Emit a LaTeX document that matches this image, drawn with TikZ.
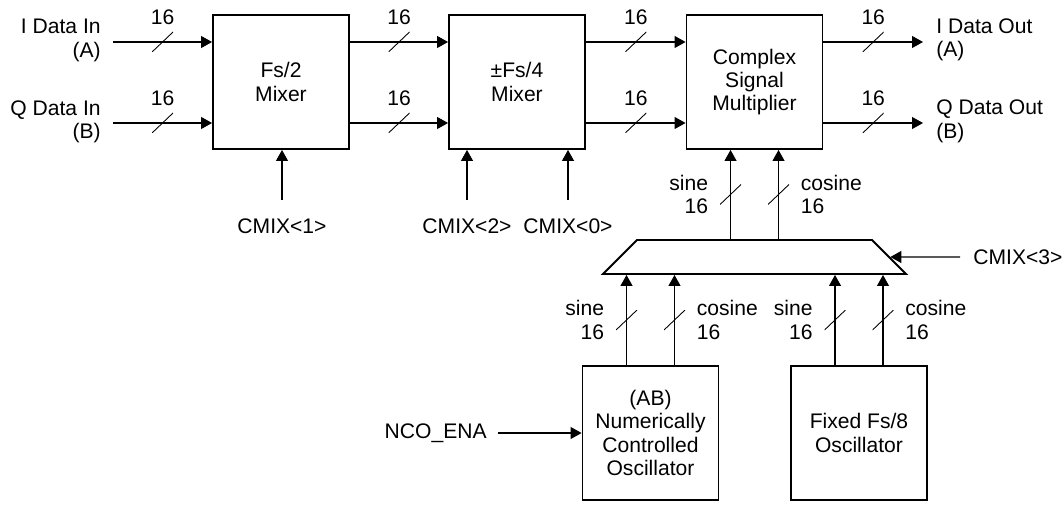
\documentclass[tikz,border=0pt]{standalone}
\usepackage{fontspec}
\setmainfont{Liberation Sans}
\usetikzlibrary{arrows.meta, shapes.geometric, calc}

\begin{document}
\begin{tikzpicture}[
    x=0.02cm, y=-0.02cm,
    font=\fontsize{12}{13.3}\selectfont,
    caixa/.style={
        draw,
        line width=1.1pt,
        align=center,
        minimum width=2.72cm,
        minimum height=2.68cm,
        inner sep=0pt
    },
    seta/.style={
        -{Triangle[length=0.22cm, width=0.24cm]},
        line width=0.6pt
    },
    traco/.style={
        inner sep=0pt,
        minimum width=0.42cm,
        minimum height=0.4cm,
        path picture={\draw[-, line width=0.5pt]
            (path picture bounding box.south west) --
            (path picture bounding box.north east);}
    },
    esq/.style={label={[align=right, label distance=0.1cm]left:{#1}}},
    dir/.style={label={[align=left, label distance=0.1cm]right:{#1}}},
    rotulo/.style={inner sep=0pt}
]

\useasboundingbox (0,0) rectangle (1064,506);

\node[caixa] (fs2) at (281,82) {Fs/2\\Mixer};
\node[caixa] (fs4) at (517,82) {±Fs/4\\Mixer};
\node[caixa] (mult) at (754.5,82) {Complex\\Signal\\Multiplier};
\node[caixa] (nco) at (650.5,433) {(AB)\\Numerically\\Controlled\\Oscillator};
\node[caixa] (fixo) at (859,433) {Fixed Fs/8\\Oscillator};

\node[trapezium, draw, line width=1.1pt, inner sep=0pt,
    trapezium left angle=45, trapezium right angle=45,
    text width=4.70cm, text height=0.68cm, text depth=0pt] (mux) at (754.5,257) {};

\coordinate (iin) at (113,42);
\coordinate (qin) at (113,123);
\coordinate (iout) at (923,42);
\coordinate (qout) at (923,123);

\node[rotulo, anchor=east, align=right] (iinlbl) at (101,40.5) {I Data In\\(A)};
\node[rotulo, anchor=east, align=right] (qinlbl) at (101,122) {Q Data In\\(B)};
\node[rotulo, anchor=west, align=left] (ioutlbl) at (936,40) {I Data Out\\(A)};
\node[rotulo, anchor=west, align=left] (qoutlbl) at (936,121.5) {Q Data Out\\(B)};

\node[rotulo] (cmix1) at (282,226) {CMIX<1>};
\node[rotulo] (cmix2) at (467,226) {CMIX<2>};
\node[rotulo] (cmix0) at (568,226) {CMIX<0>};
\node[rotulo, anchor=west] (cmix3) at (973,257) {CMIX<3>};
\node[rotulo, anchor=east] (ena) at (487,433) {NCO\_ENA};

\draw[seta] (iin) -- node[traco, label=above:16]{} (iin -| fs2.west);
\draw[seta] (qin) -- node[traco, label=above:16]{} (qin -| fs2.west);
\draw[seta] (fs2.east |- iin) -- node[traco, label=above:16]{} (fs4.west |- iin);
\draw[seta] (fs2.east |- qin) -- node[traco, label=above:16]{} (fs4.west |- qin);
\draw[seta] (fs4.east |- iin) -- node[traco, label=above:16]{} (mult.west |- iin);
\draw[seta] (fs4.east |- qin) -- node[traco, label=above:16]{} (mult.west |- qin);
\draw[seta] (mult.east |- iin) -- node[traco, label=above:16]{} (iout);
\draw[seta] (mult.east |- qin) -- node[traco, label=above:16]{} (qout);

\draw[seta] (cmix1) ++(0,-26) -- (cmix1 |- fs2.south);
\draw[seta] (cmix2) ++(0,-26) -- (cmix2 |- fs4.south);
\draw[seta] (cmix0) ++(0,-26) -- (cmix0 |- fs4.south);
\draw[seta] (cmix3.west) ++(-13,0) -- (mux.east);
\draw[seta] (ena.east) ++(11,0) -- (nco.west);

\coordinate (ms) at ([xshift=-0.48cm]mux.north);
\coordinate (mc) at ([xshift=0.48cm]mux.north);
\draw[seta] (ms) -- node[traco, esq={sine\\16}]{} (ms |- mult.south);
\draw[seta] (mc) -- node[traco, dir={cosine\\16}]{} (mc |- mult.south);

\coordinate (ns) at ([xshift=-0.48cm]nco.north);
\coordinate (nc) at ([xshift=0.48cm]nco.north);
\coordinate (fs) at ([xshift=-0.48cm]fixo.north);
\coordinate (fc) at ([xshift=0.48cm]fixo.north);
\draw[seta] (ns) -- node[traco, esq={sine\\16}]{} (ns |- mux.south);
\draw[seta] (nc) -- node[traco, dir={cosine\\16}]{} (nc |- mux.south);
\draw[seta] (fs) -- node[traco, esq={sine\\16}]{} (fs |- mux.south);
\draw[seta] (fc) -- node[traco, dir={cosine\\16}]{} (fc |- mux.south);

\end{tikzpicture}
\end{document}
